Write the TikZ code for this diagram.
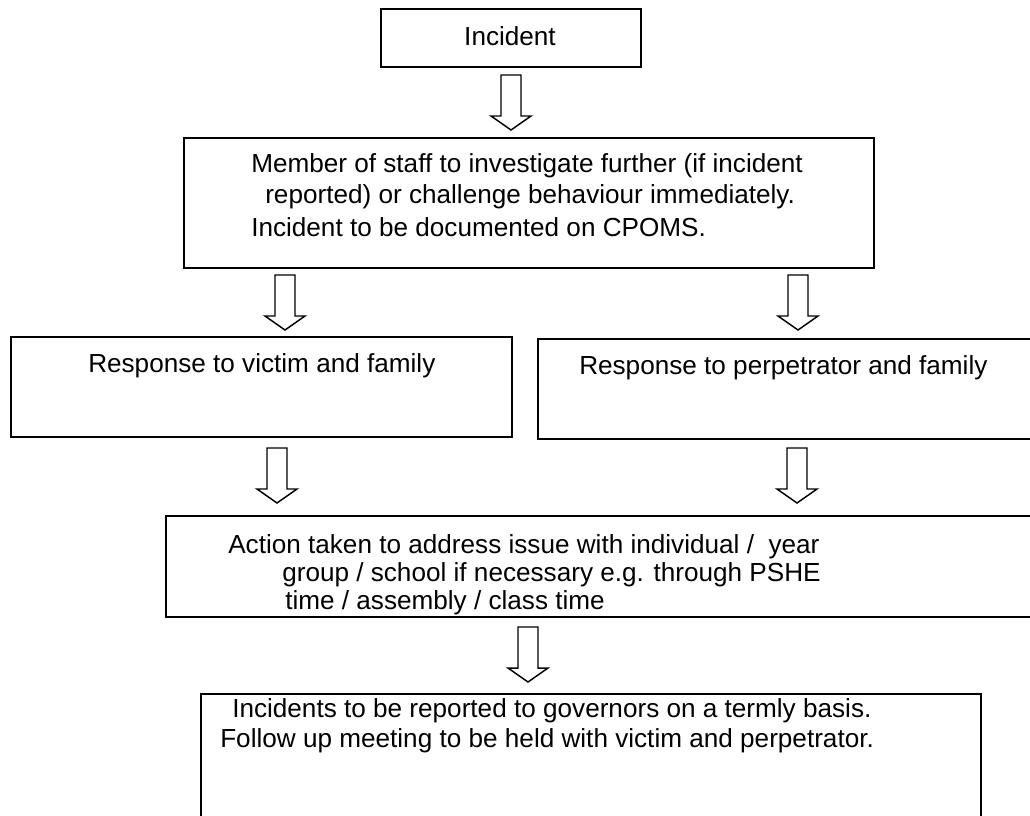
\documentclass[tikz,border=0pt]{standalone}
\usepackage{fontspec}
\setmainfont{Liberation Sans}
\begin{document}
\begin{tikzpicture}[x=0.75pt,y=-0.75pt,
  box/.style={draw,line width=1.4pt,anchor=north west,inner sep=0pt},
  bsize/.style 2 args={minimum width=#1*0.75pt,minimum height=#2*0.75pt},
  txt/.style={font=\fontsize{19.6}{23}\selectfont,inner sep=0pt,anchor=base west},
  blockarrow/.pic={\draw[line width=1.1pt,line join=miter]
      (-10,0) -- (10,0) -- (10,41) -- (20,41) -- (0,55) -- (-20,41) -- (-10,41) -- cycle;}]
\useasboundingbox (0,0) rectangle (1030,815);
\clip (0,0) rectangle (1030,815);
% boxes
\node[box,bsize={260}{58}] (inc) at (380,8) {};
\node[box,bsize={690}{130}] (mem) at (183,137) {};
\node[box,bsize={501}{100}] (vic) at (10,336) {};
\node[box,bsize={510}{100}] (per) at (537,338) {};
\node[box,bsize={880}{101}] (act) at (165,515) {};
\node[box,bsize={780}{200}] (bot) at (200,693) {};
% texts
\node[txt,anchor=base] (incT) at (510,45) {Incident};
\node[txt] (memA) at (251,172) {Member of staff to investigate further (if incident};
\node[txt] (memB) at (265,203) {reported) or challenge behaviour immediately.};
\node[txt] (memC) at (251,236) {Incident to be documented on CPOMS.};
\node[txt] (vicT) at (88,372) {Response to victim and family};
\node[txt] (perT) at (579,374) {Response to perpetrator and family};
\node[txt] (actA) at (228,553) {Action taken to address issue with individual /\ \ year};
\node[txt] (actB) at (282,581) {group / school if necessary e.g. through PSHE};
\node[txt] (actC) at (285,609) {time / assembly / class time};
\node[txt] (botA) at (232,717) {Incidents to be reported to governors on a termly basis.};
\node[txt] (botB) at (220,747) {Follow up meeting to be held with victim and perpetrator.};
% block arrows
\coordinate (a1) at (511,75);
\coordinate (a2l) at (285,275);
\coordinate (a2r) at (798,275);
\coordinate (a3l) at (277,448);
\coordinate (a3r) at (797,448);
\coordinate (a4) at (528,627);
\foreach \c in {a1,a2l,a2r,a3l,a3r,a4} \pic at (\c) {blockarrow};
\end{tikzpicture}
\end{document}
